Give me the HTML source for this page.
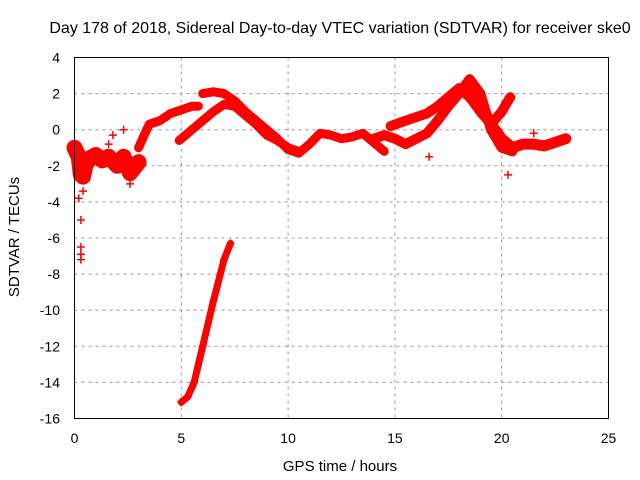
<!DOCTYPE html>
<html><head><meta charset="utf-8"><style>
body{margin:0;background:#fff}
svg{display:block;font-family:"Liberation Sans",sans-serif}
</style></head><body>
<svg id="chart" width="640" height="480" viewBox="0 0 640 480">
<rect width="640" height="480" fill="#fff"/>
<text x="340" y="33" text-anchor="middle" font-size="16">Day 178 of 2018, Sidereal Day-to-day VTEC variation (SDTVAR) for receiver ske0</text>
<text x="340" y="471" text-anchor="middle" font-size="15">GPS time / hours</text>
<text transform="translate(19,237) rotate(-90)" text-anchor="middle" font-size="15">SDTVAR / TECUs</text>
<g id="grid"></g><g id="ticks"></g><g id="marks"></g>
<rect x="74.5" y="57.5" width="534" height="361" fill="none" stroke="#000"/>
</svg>
<script>
const xTicks=[0,5,10,15,20,25];
const yTicks=[4,2,0,-2,-4,-6,-8,-10,-12,-14,-16];
const track1X=[3.0,3.3,3.5,4.0,4.5,5.0,5.5,5.8];
const track1Y=[-1.0,-0.2,0.3,0.5,0.9,1.1,1.3,1.3];
const track2X=[4.9,5.5,6.0,6.5,7.0,7.5,8.0,8.5,9.0,9.5,10.0,10.5];
const track2Y=[-0.6,0.0,0.5,1.0,1.4,1.3,0.8,0.3,-0.3,-0.6,-1.0,-1.2];
const track3X=[6.0,6.5,7.0,7.5,8.0,8.5,9.0,9.5,10.0,10.5,11.0,11.5,12.0,12.5,13.0,13.5,14.0,14.5];
const track3Y=[2.0,2.1,2.0,1.6,1.0,0.5,0.0,-0.5,-1.1,-1.3,-0.8,-0.2,-0.3,-0.5,-0.4,-0.2,-0.7,-1.2];
const track4X=[14.0,14.5,15.0,15.5,16.0,16.5,17.0,17.5,18.0,18.5,19.0,19.5,20.0,20.5];
const track4Y=[-0.5,-0.3,-0.5,-0.8,-0.5,-0.2,0.5,1.3,2.0,2.8,2.0,0.0,-1.0,-1.2];
const track5X=[14.8,15.5,16.0,16.5,17.0,17.5,18.0,18.5,19.0,19.5,20.0,20.4];
const track5Y=[0.2,0.5,0.7,0.9,1.3,1.8,2.3,1.8,1.0,0.3,1.0,1.8];
const track6X=[18.5,19.0,19.5,20.0,20.5,21.0,21.5,22.0,22.5,23.0];
const track6Y=[2.5,1.5,0.3,-0.5,-1.0,-0.8,-0.8,-0.9,-0.7,-0.5];
const track7X=[0.0,0.2,0.3,0.4,0.5,0.7,1.0,1.3,1.6,2.0,2.3,2.6,3.0];
const track7Y=[-1.0,-1.5,-2.5,-2.6,-2.0,-1.6,-1.4,-1.7,-1.5,-2.0,-1.5,-2.4,-1.8];
const track8X=[5.0,5.3,5.6,6.0,6.5,7.0,7.3];
const track8Y=[-15.1,-14.8,-14.0,-12.0,-9.5,-7.2,-6.3];
const outlierX=[0.3,0.3,0.3,0.3,0.2,16.6,20.3,21.5,2.3,1.8,1.6,2.6,0.4];
const outlierY=[-5.0,-6.5,-6.9,-7.2,-3.8,-1.5,-2.5,-0.2,0.0,-0.3,-0.8,-3.0,-3.4];
const X=v=>74.5+v*(534/25);
const Y=v=>57.5+(4-v)*(361/20);
const NS="http://www.w3.org/2000/svg";
function mk(t,a,p){const e=document.createElementNS(NS,t);for(const k in a)e.setAttribute(k,a[k]);p.appendChild(e);return e;}
const grid=document.getElementById('grid'),ticks=document.getElementById('ticks'),marks=document.getElementById('marks');
xTicks.forEach(v=>{
 if(v>0&&v<25){const g=mk('line',{x1:X(v),x2:X(v),y1:57.5,y2:418.5,stroke:'#999','stroke-dasharray':'3,4'},grid);
 
 }
 const t=mk('text',{x:X(v),y:443,'text-anchor':'middle','font-size':14},ticks);t.textContent=v;
 
 
});
yTicks.forEach(v=>{
 if(v<4&&v>-16){const g=mk('line',{x1:74.5,x2:608.5,y1:Y(v),y2:Y(v),stroke:'#999','stroke-dasharray':'3,4'},grid);
 
 }
 const t=mk('text',{x:60,y:Y(v)+5,'text-anchor':'end','font-size':14},ticks);t.textContent=v;
 
 
});
const tracks=[[track1X,track1Y,9],[track2X,track2Y,9],[track3X,track3Y,9],[track4X,track4Y,10],[track5X,track5Y,10],[track6X,track6Y,11],[track7X,track7Y,16],[track8X,track8Y,7]];
tracks.forEach((tr,i)=>{
 const pts=tr[0].map((x,j)=>X(x)+','+Y(tr[1][j])).join(' ');
 const pl=mk('polyline',{points:pts,fill:'none',stroke:'#f00','stroke-width':tr[2],'stroke-linejoin':'round','stroke-linecap':'round'},marks);
 
 
 tr[0].forEach((x,j)=>plus(X(x),Y(tr[1][j])));
});
outlierX.forEach((x,j)=>plus(X(x),Y(outlierY[j])));
function plus(cx,cy){
 const p=mk('path',{d:`M${cx-4},${cy}h8M${cx},${cy-4}v8`,stroke:'#f00','stroke-width':1.5},marks);
 
 
}
</script>
</body></html>
